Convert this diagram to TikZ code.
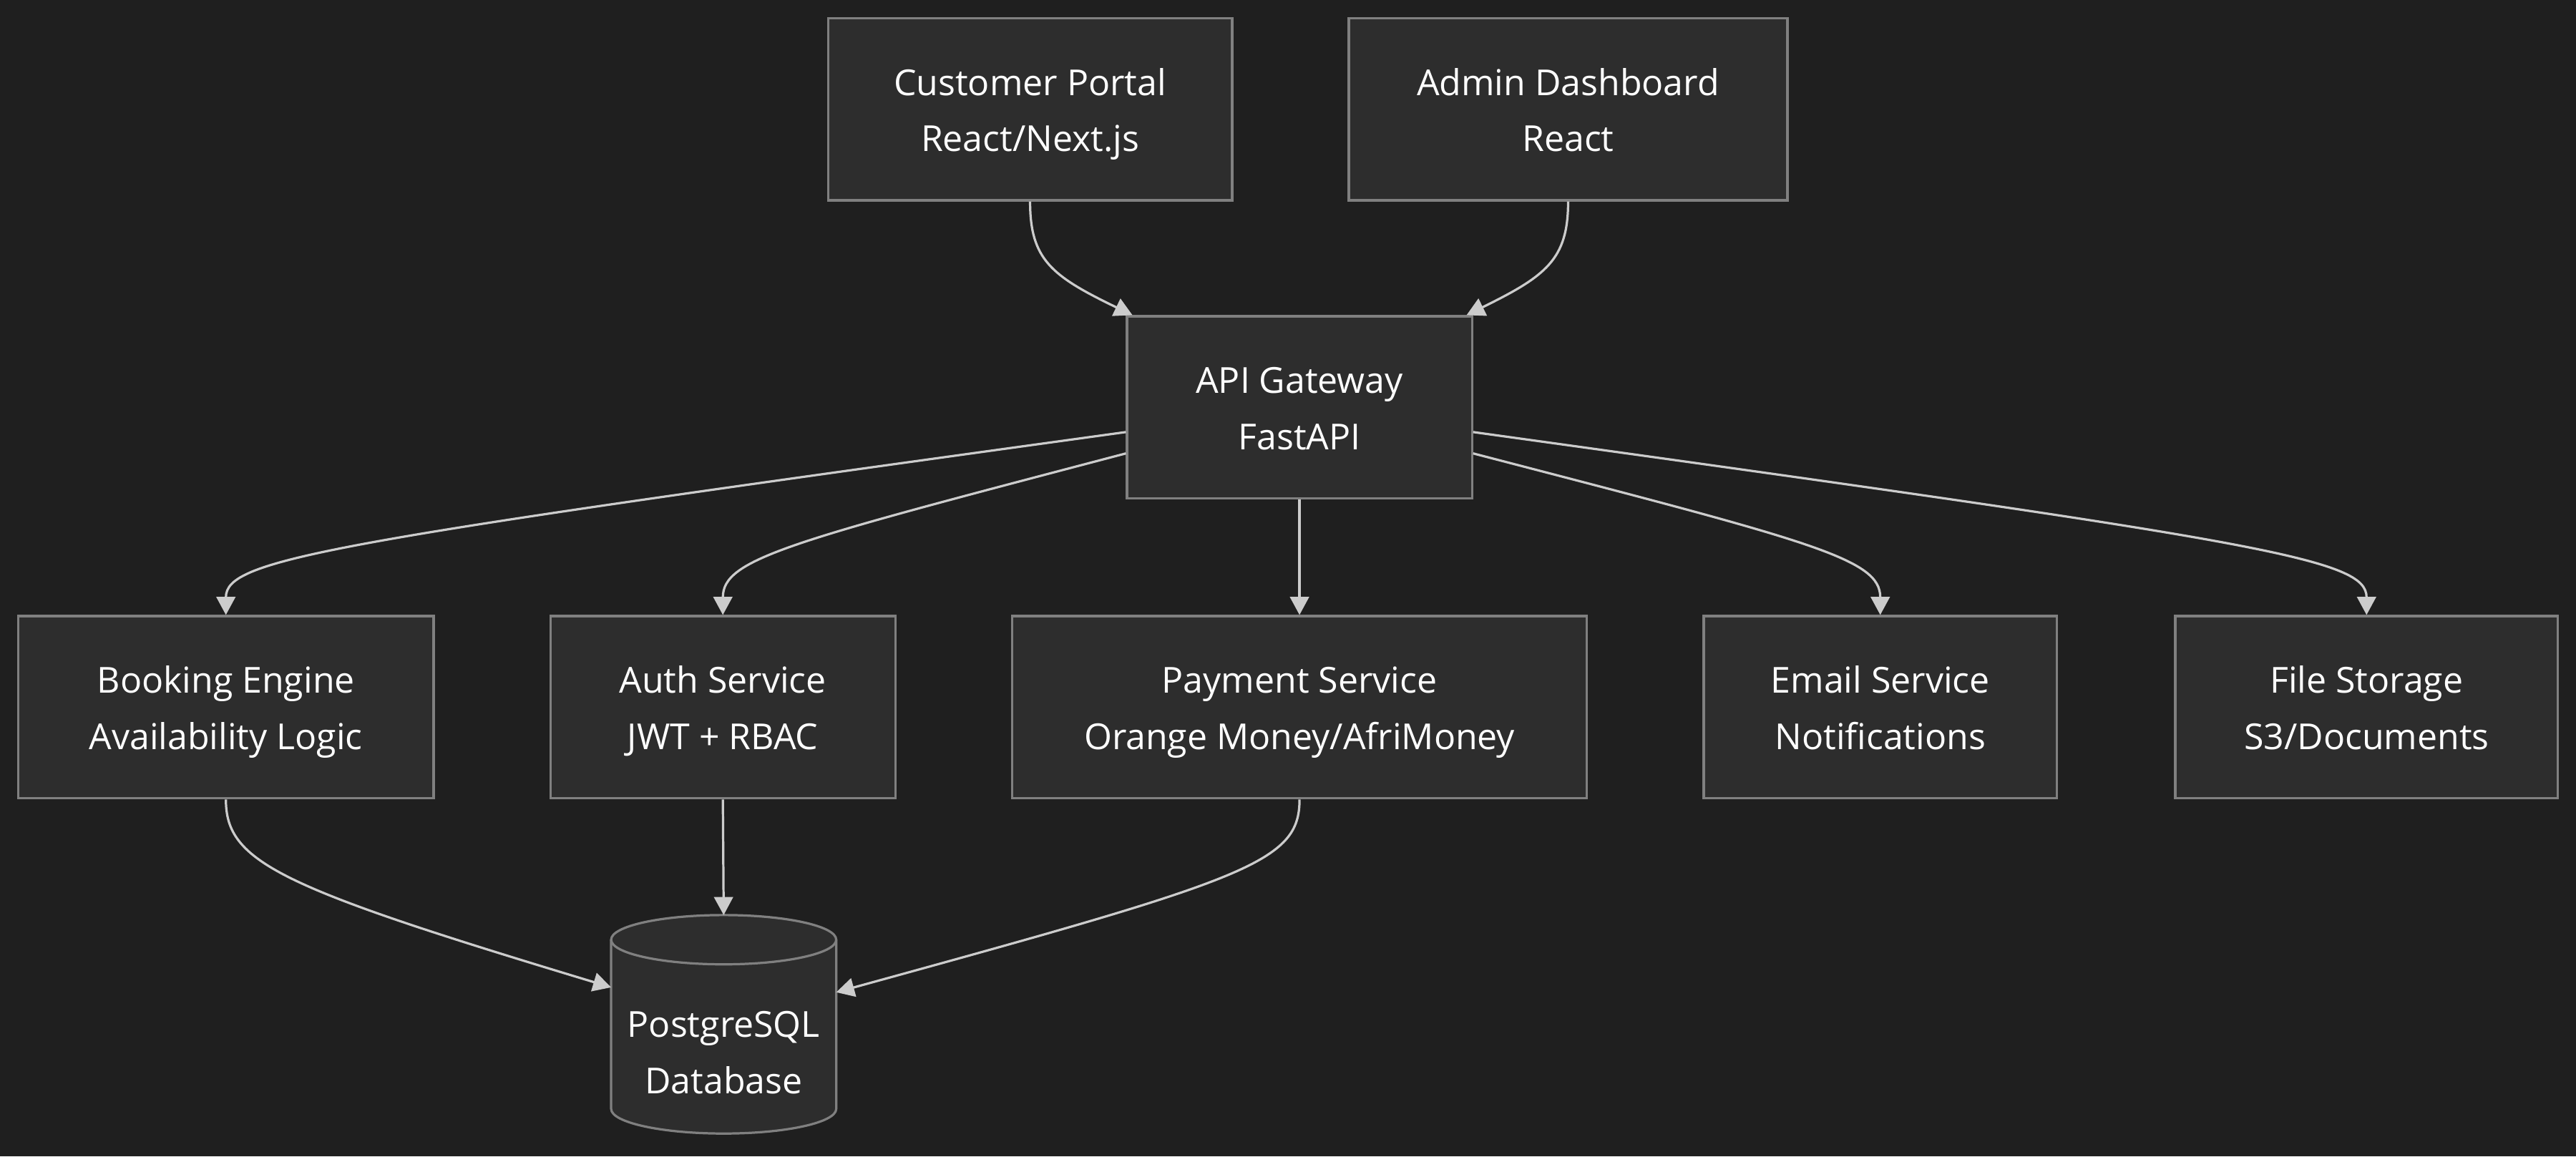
\documentclass[tikz,border=0pt]{standalone}
\usepackage{fontspec}
\setmainfont{Open Sans}
\usetikzlibrary{arrows.meta}
\definecolor{bgcol}{HTML}{1F1F1F}
\definecolor{boxfill}{HTML}{2D2D2D}
\definecolor{boxline}{HTML}{808080}
\definecolor{linkcol}{HTML}{CCCCCC}
\newcommand\topstrut{\rule[-0.3\baselineskip]{0pt}{\dimexpr\baselineskip+0.07cm\relax}}
\newcommand\twolines[2]{\topstrut#1\\#2\strut}
\tikzset{
  label text/.style={text=white, align=center, font=\fontsize{12.4}{19.4}\selectfont},
  box/.style={label text, draw=boxline, fill=boxfill, line width=0.8pt,
    inner sep=0pt, minimum height=2.22cm},
  link/.style={draw=linkcol, line width=0.8pt, -{Triangle[width=0.23cm,length=0.22cm]}}
}
\begin{document}
\begin{tikzpicture}[x=0.02cm,y=0.02cm]
   \fill[bgcol] (0,0) rectangle (1568,-704);
   \useasboundingbox (0,0) rectangle (1568,-704);
   \node[box, minimum width=4.92cm] (cp) at (627,-66.5) {\twolines{Customer Portal}{React/Next.js}};
   \node[box, minimum width=5.34cm] (ad) at (954.5,-66.5) {\twolines{Admin Dashboard}{React}};
   \node[box, minimum width=4.2cm] (api) at (791,-248) {\twolines{API Gateway}{FastAPI}};
   \node[box, minimum width=5.06cm] (be) at (137.5,-430.5) {\twolines{Booking Engine}{Availability Logic}};
   \node[box, minimum width=4.2cm] (auth) at (440,-430.5) {\twolines{Auth Service}{JWT + RBAC}};
   \node[box, minimum width=7cm] (pay) at (791,-430.5) {\twolines{Payment Service}{Orange Money/AfriMoney}};
   \node[box, minimum width=4.3cm] (mail) at (1144.5,-430.5) {\twolines{Email Service}{Notifications}};
   \node[box, minimum width=4.66cm] (fs) at (1440.5,-430.5) {\twolines{File Storage}{S3/Documents}};
   % database cylinder
   \fill[boxfill] (372,-572) -- (372,-675) arc[start angle=180,end angle=360,x radius=68.5,y radius=15]
      -- (509,-572) arc[start angle=0,end angle=180,x radius=68.5,y radius=15] -- cycle;
   \draw[boxline, line width=0.8pt] (372,-572) -- (372,-675)
      arc[start angle=180,end angle=360,x radius=68.5,y radius=15] -- (509,-572);
   \draw[boxline, line width=0.8pt] (440.5,-572) ellipse [x radius=68.5, y radius=15];
   \node[label text, inner sep=0pt] (db) at (440.5,-640) {\twolines{PostgreSQL}{Database}};
   \coordinate (dbtop) at (440.5,-557);
   \coordinate (dbleft) at (372,-601);
   \coordinate (dbright) at (509,-604);
   % connectors
   \draw[link] (cp.south) .. controls (627,-158) and (640,-168) .. ([xshift=0.08cm]api.north west);
   \draw[link] (ad.south) .. controls (954.5,-158) and (941,-168) .. ([xshift=-0.08cm]api.north east);
   \draw[link] ([yshift=-0.3cm]api.west) .. controls (200,-330) and (137.5,-340) .. (be.north);
   \draw[link] ([yshift=-0.56cm]api.west) .. controls (480,-330) and (440,-340) .. (auth.north);
   \draw[link] (api.south) -- (pay.north);
   \draw[link] ([yshift=-0.56cm]api.east) .. controls (1104,-330) and (1144.5,-340) .. (mail.north);
   \draw[link] ([yshift=-0.3cm]api.east) .. controls (1380,-330) and (1440.5,-340) .. (fs.north);
   \draw[link] (be.south) .. controls (137.5,-525) and (170,-540) .. (dbleft);
   \draw[link] (auth.south) -- (dbtop);
   \draw[link] (pay.south) .. controls (791,-525) and (760,-535) .. (dbright);
 \end{tikzpicture}
\end{document}
